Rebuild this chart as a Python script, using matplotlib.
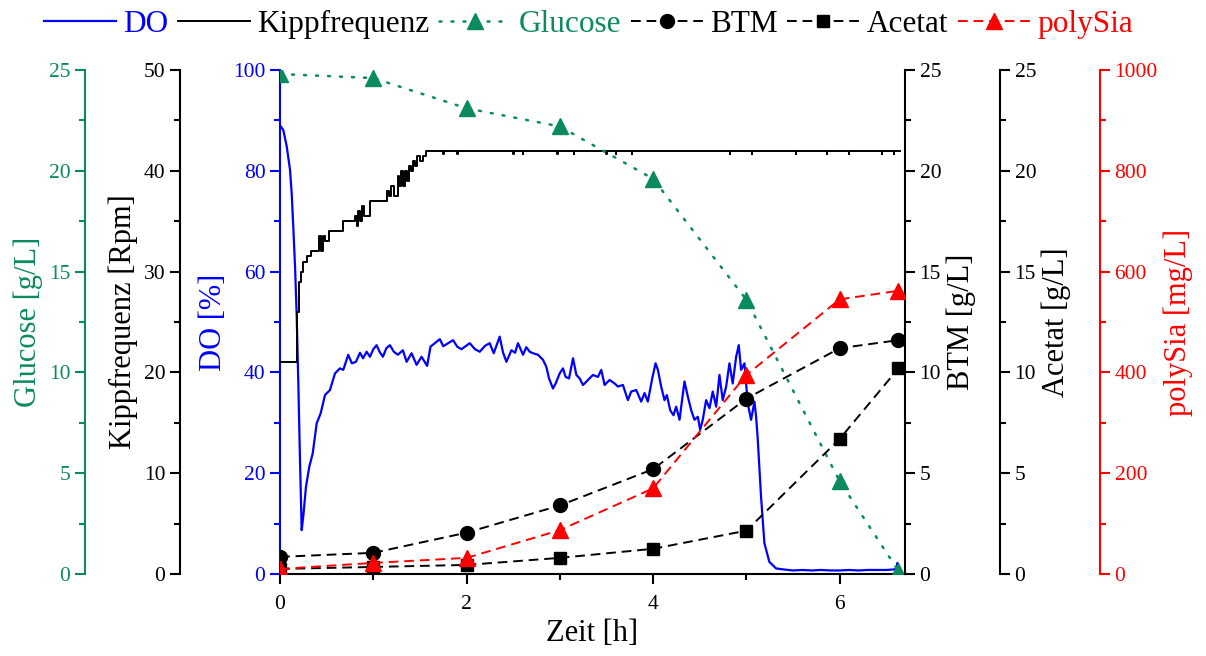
import matplotlib

matplotlib.use("Agg")
import matplotlib.pyplot as plt
from matplotlib.ticker import MultipleLocator

plt.rcParams["font.family"] = ["Liberation Serif", "DejaVu Serif"]

BLUE = "#0000ff"
RED = "#ff0000"
GREEN = "#0b8a5e"

# offline samples (h)
t_samples = [0, 1, 2, 3, 4, 5, 6, 6.63]
glucose = [24.8, 24.6, 23.1, 22.2, 19.6, 13.6, 4.6, 0.15]      # g/L
btm = [0.85, 1.05, 2.05, 3.4, 5.2, 8.7, 11.2, 11.6]             # g/L
acetat = [0.25, 0.35, 0.45, 0.8, 1.25, 2.15, 6.7, 10.2]         # g/L
polysia = [10, 22, 32, 87, 170, 395, 545, 562]                  # mg/L

# online DO trace
do_t = [0.000, 0.035, 0.072, 0.107, 0.125, 0.142, 0.161, 0.179, 0.196, 0.214,
        0.232, 0.249, 0.278, 0.314, 0.350, 0.393, 0.436, 0.482, 0.535, 0.589,
        0.642, 0.678, 0.731, 0.770, 0.814, 0.857, 0.890, 0.928, 0.964, 1.000,
        1.035, 1.070, 1.103, 1.140, 1.178, 1.220, 1.263, 1.317, 1.357, 1.410,
        1.464, 1.517, 1.577, 1.613, 1.660, 1.713, 1.750, 1.785, 1.855, 1.900,
        1.945, 2.034, 2.090, 2.141, 2.200, 2.248, 2.291, 2.355, 2.390, 2.427,
        2.481, 2.520, 2.551, 2.605, 2.640, 2.677, 2.712, 2.766, 2.819, 2.855,
        2.884, 2.926, 2.955, 2.998, 3.033, 3.062, 3.098, 3.141, 3.177, 3.212,
        3.248, 3.301, 3.355, 3.408, 3.444, 3.480, 3.533, 3.587, 3.622, 3.676,
        3.729, 3.765, 3.819, 3.872, 3.908, 3.943, 3.990, 4.026, 4.051, 4.086,
        4.122, 4.147, 4.183, 4.218, 4.247, 4.283, 4.336, 4.372, 4.408, 4.443,
        4.479, 4.504, 4.532, 4.568, 4.604, 4.639, 4.676, 4.711, 4.746, 4.783,
        4.818, 4.853, 4.890, 4.918, 4.943, 4.979, 5.014, 5.050, 5.086, 5.104,
        5.121, 5.157, 5.193, 5.246, 5.318, 5.400, 5.500, 5.600, 5.700, 5.800,
        5.900, 6.000, 6.100, 6.200, 6.300, 6.400, 6.500, 6.580, 6.610, 6.620,
        6.630]
do = [89.0, 88.1, 84.8, 80.2, 75.5, 68.9, 61.0, 51.0, 37.8, 22.6,
      8.7, 11.4, 17.3, 21.3, 23.9, 29.9, 31.9, 35.5, 36.5, 39.8,
      40.8, 40.5, 43.5, 41.8, 42.1, 43.9, 42.8, 44.1, 43.1, 44.6,
      45.4, 44.0, 43.1, 44.8, 45.4, 44.1, 43.5, 44.4, 42.1, 43.8,
      41.5, 43.1, 41.3, 45.1, 45.8, 46.6, 45.2, 45.6, 46.4, 45.1,
      44.6, 45.8, 44.6, 44.1, 45.3, 45.8, 43.8, 47.1, 44.0, 42.1,
      44.4, 43.9, 45.8, 43.5, 45.0, 44.1, 43.8, 43.5, 42.5, 41.1,
      38.8, 36.8, 37.8, 39.8, 40.8, 39.1, 38.8, 42.8, 39.5, 38.8,
      37.5, 38.5, 39.5, 39.1, 40.5, 37.5, 38.5, 37.8, 37.2, 37.5,
      34.5, 36.2, 36.5, 34.2, 35.9, 34.2, 38.8, 41.8, 40.5, 37.2,
      34.5, 35.5, 32.5, 31.5, 33.2, 30.6, 38.2, 35.2, 32.5, 30.6,
      31.2, 28.6, 30.6, 34.5, 32.9, 36.2, 33.2, 39.5, 34.5, 37.2,
      41.8, 37.8, 43.1, 45.4, 40.5, 41.8, 33.9, 30.6, 34.2, 31.2,
      26.9, 15.3, 6.1, 2.4, 1.1, 0.9, 0.7, 0.8, 0.7, 0.8,
      0.7, 0.7, 0.8, 0.7, 0.8, 0.8, 0.8, 0.9, 1.0, 2.2,
      0.8]

# Kippfrequenz (rocking rate), step trace
kipp_t = [0.00, 0.18, 0.20, 0.22, 0.25, 0.29, 0.33, 0.40, 0.42, 0.44,
          0.46, 0.48, 0.53, 0.68, 0.80, 0.82, 0.84, 0.86, 0.88, 0.90,
          0.96, 1.15, 1.17, 1.19, 1.22, 1.26, 1.28, 1.30, 1.32, 1.34,
          1.36, 1.38, 1.40, 1.43, 1.45, 1.47, 1.50, 1.53, 1.56, 1.59,
          1.75, 1.755, 1.90, 1.905, 2.50, 2.505, 2.60, 2.605, 2.97, 2.975,
          3.15, 3.155, 3.50, 3.505, 3.60, 3.605, 3.77, 3.775, 4.82, 4.825,
          5.06, 5.065, 5.53, 5.535, 5.86, 5.865, 6.10, 6.105, 6.45, 6.455,
          6.58, 6.585, 6.65]
kipp = [21, 26, 29, 30, 31, 31.5, 32, 32, 33.5, 32,
        33.5, 33, 34, 35, 35.5, 34.5, 36, 35, 36.5, 35.5,
        37, 38, 37.5, 38.5, 37.5, 39.5, 38.5, 40, 38.5, 40,
        39, 40.5, 40, 41, 40.5, 41.5, 41, 41.5, 42, 42,
        41.7, 42, 41.7, 42, 41.7, 42, 41.7, 42, 41.7, 42,
        41.7, 42, 41.7, 42, 41.7, 42, 41.7, 42, 41.7, 42,
        41.7, 42, 41.7, 42, 41.7, 42, 41.7, 42, 41.7, 42,
        41.7, 42, 42]


def style_y(axis, side, pos, color, lim, major, minor, label):
    for sp in axis.spines.values():
        sp.set_visible(False)
    sp = axis.spines[side]
    sp.set_visible(True)
    sp.set_position(("axes", pos))
    sp.set_color(color)
    sp.set_linewidth(1.5)
    axis.yaxis.set_ticks_position(side)
    axis.yaxis.set_label_position(side)
    axis.set_ylim(*lim)
    axis.yaxis.set_major_locator(MultipleLocator(major))
    axis.yaxis.set_minor_locator(MultipleLocator(minor))
    axis.tick_params(axis="y", which="both", direction="out", colors=color,
                     labelsize=15.5, width=1.5)
    axis.tick_params(axis="y", which="major", length=7)
    axis.tick_params(axis="y", which="minor", length=4)
    axis.set_ylabel(label, color=color, fontsize=22, labelpad=4)


fig = plt.figure(figsize=(12.06, 6.56), dpi=100)
ax = fig.add_axes([0.2322, 0.125, 0.5182, 0.7683])

ax_kipp = ax.twinx()
ax_glu = ax.twinx()
ax_btm = ax.twinx()
ax_ace = ax.twinx()
ax_sia = ax.twinx()

style_y(ax_glu, "left", -0.312, GREEN, (0, 25), 5, 2.5, "Glucose [g/L]")
style_y(ax_kipp, "left", -0.16, "black", (0, 50), 10, 5, "Kippfrequenz [Rpm]")
style_y(ax_btm, "right", 1.0, "black", (0, 25), 5, 2.5, "BTM [g/L]")
style_y(ax_ace, "right", 1.152, "black", (0, 25), 5, 2.5, "Acetat [g/L]")
style_y(ax_sia, "right", 1.312, RED, (0, 1000), 200, 100, "polySia [mg/L]")

# main axis: DO
ax.spines["top"].set_visible(False)
ax.spines["right"].set_visible(False)
ax.spines["left"].set_color(BLUE)
ax.spines["left"].set_linewidth(1.5)
ax.spines["bottom"].set_linewidth(1.5)
ax.set_ylim(0, 100)
ax.yaxis.set_major_locator(MultipleLocator(20))
ax.yaxis.set_minor_locator(MultipleLocator(10))
ax.tick_params(axis="y", which="both", direction="out", colors=BLUE,
               labelsize=15.5, width=1.5)
ax.tick_params(axis="y", which="major", length=7)
ax.tick_params(axis="y", which="minor", length=4)
ax.set_ylabel("DO [%]", color=BLUE, fontsize=22, labelpad=4)

ax.set_xlim(0, 6.7)
ax.xaxis.set_major_locator(MultipleLocator(2))
ax.xaxis.set_minor_locator(MultipleLocator(1))
ax.tick_params(axis="x", which="both", direction="out", labelsize=15.5, width=1.5)
ax.tick_params(axis="x", which="major", length=7, pad=8)
ax.tick_params(axis="x", which="minor", length=4)
ax.set_xlabel("Zeit [h]", fontsize=22, labelpad=4)

l_do, = ax.plot(do_t, do, "-", color=BLUE, lw=1.6, label="DO")
l_kipp, = ax_kipp.plot(kipp_t, kipp, "-", color="black", lw=1.4,
                       drawstyle="steps-post", label="Kippfrequenz")
l_glu, = ax_glu.plot(t_samples, glucose, color=GREEN, lw=1.8,
                     ls=(0, (0.8, 4)), dash_capstyle="round",
                     marker="^", ms=11, label="Glucose")
l_btm, = ax_btm.plot(t_samples, btm, color="black", lw=1.4, ls=(0, (5, 3)),
                     marker="o", ms=10, label="BTM")
l_ace, = ax_ace.plot(t_samples, acetat, color="black", lw=1.4, ls=(0, (5, 3)),
                     marker="s", ms=8.5, label="Acetat")
l_sia, = ax_sia.plot(t_samples, polysia, color=RED, lw=1.4, ls=(0, (5, 3)),
                     marker="^", ms=11, label="polySia")

handles = [l_do, l_kipp, l_glu, l_btm, l_ace, l_sia]
leg = fig.legend(handles, [h.get_label() for h in handles], loc="center",
                 bbox_to_anchor=(0.488, 0.962), ncol=6, frameon=False,
                 fontsize=22.5, handlelength=2.3, handletextpad=0.25,
                 columnspacing=0.3, borderpad=0.1)
for txt, c in zip(leg.get_texts(), [BLUE, "black", GREEN, "black", "black", RED]):
    txt.set_color(c)

fig.savefig("out.png", dpi=100)
